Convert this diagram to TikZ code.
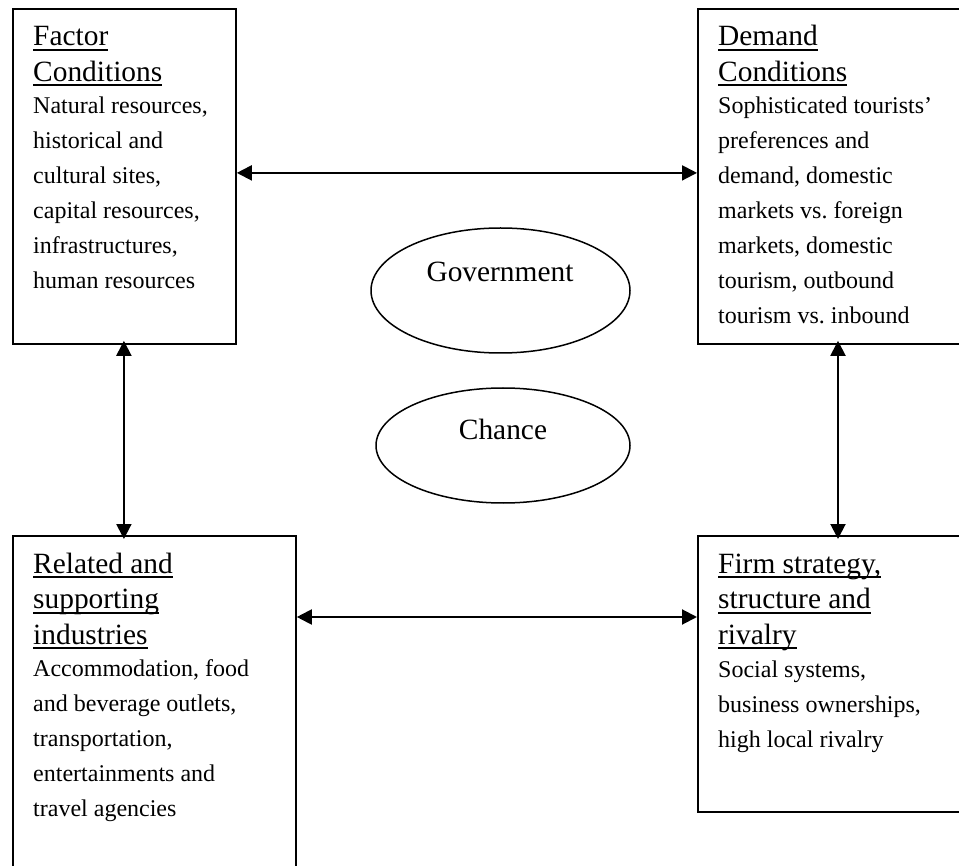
\documentclass[tikz,border=0pt]{standalone}
\usepackage{fontspec}
\setmainfont{Liberation Serif}
\usetikzlibrary{arrows.meta,shapes.geometric}
\newcommand{\hul}[1]{\leavevmode\setbox0=\hbox{#1}\rlap{\rule[-5pt]{\wd0}{2pt}}\box0}
\newcommand{\hfont}{\fontsize{29.4}{35.5}\selectfont\spaceskip=.25em\relax\xspaceskip=.25em\relax}
\newcommand{\bfont}{\fontsize{24}{35}\selectfont\spaceskip=.25em\relax\xspaceskip=.25em\relax}
\begin{document}
\begin{tikzpicture}[x=1pt,y=1pt,
  bx/.style={draw, line width=1.8pt, rectangle, inner sep=0pt, anchor=north west},
  ell/.style={draw, line width=1.5pt, ellipse, inner sep=0pt},
  txt/.style={anchor=base west, align=left, text width=280pt, inner sep=0pt},
  lbl/.style={anchor=base, inner sep=0pt, font=\hfont},
  arr/.style={{Triangle[length=15pt,width=15pt]}-{Triangle[length=15pt,width=15pt]}, line width=2pt}]
\useasboundingbox (0,0) rectangle (959,-866);
\fill[white] (0,0) rectangle (959,-866);
\clip (0,0) rectangle (959,-866);

% boxes
\node[bx, minimum width=223pt, minimum height=335pt] (fc) at (12,-8) {};
\node[bx, minimum width=268pt, minimum height=335pt] (dc) at (697,-8) {};
\node[bx, minimum width=283pt, minimum height=336pt] (rs) at (12,-535) {};
\node[bx, minimum width=268pt, minimum height=276pt] (fs) at (697,-535) {};

% box texts
\node[txt] (fct) at (33,-46) {\hfont\hul{Factor}\\\hul{Conditions}\par\vspace{-3pt}
  \bfont Natural resources,\\historical and\\cultural sites,\\capital resources,\\infrastructures,\\human resources\par};
\node[txt] (dct) at (718,-46) {\hfont\hul{Demand}\\\hul{Conditions}\par\vspace{-3pt}
  \bfont Sophisticated tourists’\\preferences and\\demand, domestic\\markets vs. foreign\\markets, domestic\\tourism, outbound\\tourism vs. inbound\par};
\node[txt] (rst) at (33,-573) {\hfont\hul{Related and}\\\hul{supporting}\\\hul{industries}\par\vspace{-3pt}
  \bfont Accommodation, food\\and beverage outlets,\\transportation,\\entertainments and\\travel agencies\par};
\node[txt] (fst) at (718,-573) {\hfont\hul{Firm strategy,}\\\hul{structure and}\\\hul{rivalry}\par\vspace{-2pt}
  \bfont Social systems,\\business ownerships,\\high local rivalry\par};

% ellipses
\node[ell, minimum width=259pt, minimum height=125pt] (gov) at (500.5,-290.5) {};
\node[lbl] (govt) at (500,-282) {Government};
\node[ell, minimum width=254pt, minimum height=115pt] (cha) at (503,-445.5) {};
\node[lbl] (chat) at (503,-440) {Chance};

% connectors
\draw[arr] ([yshift=3.5pt]fc.east) -- ([yshift=3.5pt]fc.east -| dc.west);
\draw[arr, shorten <=-4pt, shorten >=-4pt] ([xshift=-0.5pt]fc.south) -- ([xshift=-0.5pt]fc.south |- rs.north);
\draw[arr, shorten <=-4pt, shorten >=-4pt] ([xshift=141pt]dc.south west) -- ([xshift=141pt]dc.south west |- fs.north);
\draw[arr] ([yshift=-82pt]rs.north east) -- ([yshift=-82pt]rs.north east -| fs.west);
\end{tikzpicture}
\end{document}
